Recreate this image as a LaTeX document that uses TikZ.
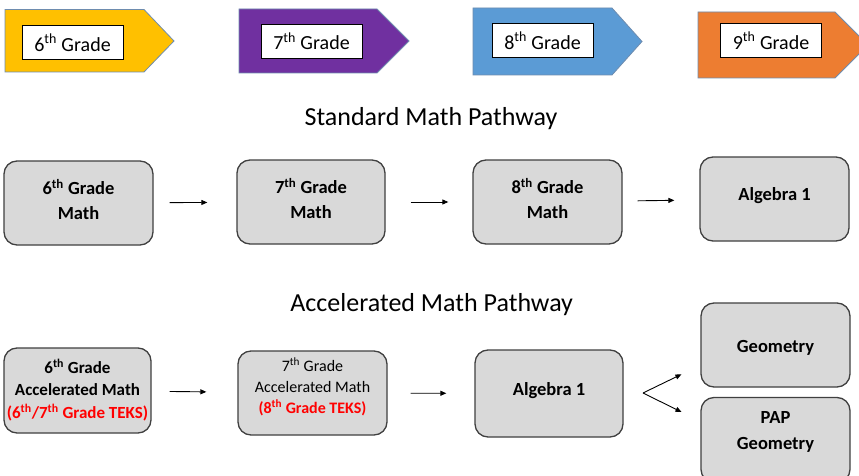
\documentclass[tikz,border=0pt]{standalone}
\usepackage{fontspec}
\setmainfont{Carlito}
\usetikzlibrary{arrows.meta}
\definecolor{gyellow}{RGB}{255,192,0}
\definecolor{gpurple}{RGB}{112,48,160}
\definecolor{gblue}{RGB}{91,155,213}
\definecolor{gorange}{RGB}{237,125,49}
\definecolor{bannerline}{RGB}{110,140,175}
\definecolor{boxfill}{RGB}{217,217,217}
\definecolor{boxline}{RGB}{64,64,64}
\definecolor{teksred}{RGB}{255,0,0}
\begin{document}
\begin{tikzpicture}[x=1pt,y=-1pt,
  banner/.style={draw=bannerline, line width=0.8pt},
  gradelabel/.style={draw=black, fill=white, line width=0.9pt, minimum width=101pt, minimum height=34pt, inner sep=0pt, font=\fontsize{20}{24}\selectfont},
  box/.style={draw=boxline, fill=boxfill, line width=1.3pt, rounded corners=13pt, minimum width=149pt, minimum height=84pt, inner sep=0pt, align=center},
  bigbold/.style={font=\fontsize{18.5}{25}\selectfont\bfseries},
  accbold/.style={font=\fontsize{17}{22.5}\selectfont\bfseries},
  accreg/.style={font=\fontsize{16}{21}\selectfont},
  pathtitle/.style={font=\fontsize{26}{30}\selectfont, anchor=base},
  arr/.style={-{Triangle[length=6pt,width=5pt]}, line width=0.9pt, black}
]
\path[use as bounding box] (0,0) rectangle (859,476);
\clip (0,0) rectangle (859,476);
\fill[white] (0,0) rectangle (859,476);

% grade banners
\draw[banner, fill=gyellow] (5,9.5) -- (144,9.5) -- (174,41) -- (144,72) -- (5,72) -- cycle;
\draw[banner, fill=gpurple] (239,9) -- (377,9) -- (409,41) -- (377,73) -- (239,73) -- cycle;
\draw[banner, fill=gblue] (473,8) -- (612,8) -- (642,41.5) -- (612,75) -- (473,75) -- cycle;
\draw[banner, fill=gorange] (698,12) -- (835,12) -- (868,45) -- (835,78) -- (698,78) -- cycle;
\node[gradelabel] (g6) at (72.5,42.5) {6\textsuperscript{th} Grade};
\node[gradelabel] (g7) at (311.5,41) {7\textsuperscript{th} Grade};
\node[gradelabel] (g8) at (542.5,40.5) {8\textsuperscript{th} Grade};
\node[gradelabel] (g9) at (771,40.5) {9\textsuperscript{th} Grade};

% titles
\node[pathtitle] (t1) at (431,125.7) {Standard Math Pathway};
\node[pathtitle] (t2) at (431.7,311.7) {Accelerated Math Pathway};

% standard pathway
\node[box, bigbold, text height=38pt, text depth=5pt] (b1) at (78.5,203) {6\textsuperscript{th} Grade\\Math};
\node[box, bigbold, text height=38pt, text depth=5pt, minimum width=148pt] (b2) at (311,202) {7\textsuperscript{th} Grade\\Math};
\node[box, bigbold, text height=38pt, text depth=5pt] (b3) at (547.5,202) {8\textsuperscript{th} Grade\\Math};
\node[box, bigbold, text height=12.5pt, text depth=9.5pt] (b4) at (774.5,199) {Algebra 1};

\draw[arr, shorten <=16pt, shorten >=29pt] (b1) -- (b2);
\draw[arr, shorten <=25pt, shorten >=24pt] (b2) -- (b3);
\draw[arr, shorten <=15pt, shorten >=25pt] (b3) -- (b4);

% accelerated pathway
\node[box, accbold, text height=58pt, text depth=2.4pt, minimum width=147pt, minimum height=85pt] (c1) at (77.5,390.5)
  {6\textsuperscript{th} Grade\\Accelerated Math\\\textcolor{teksred}{(6\textsuperscript{th}/7\textsuperscript{th} Grade TEKS)}};
\node[box, accreg, text height=54pt, text depth=13.4pt] (c2) at (312.5,393)
  {7\textsuperscript{th} Grade\\Accelerated Math\\\textcolor{teksred}{\bfseries (8\textsuperscript{th} Grade TEKS)}};
\node[box, bigbold, text height=12.5pt, text depth=9.5pt, minimum width=148pt, minimum height=87pt] (c3) at (549,393.5) {Algebra 1};
\node[box, bigbold, text height=15pt, text depth=1pt] (geo) at (775.5,345) {Geometry};
\node[box, font=\fontsize{18.5}{26}\selectfont\bfseries, text height=38pt, text depth=20pt, minimum height=85pt] (pap) at (775.5,440) {PAP\\Geometry};

\draw[arr, shorten <=18pt, shorten >=31pt] (c1) -- (c2);
\draw[arr, shorten <=23pt, shorten >=28pt] (c2) -- (c3);
\coordinate (fk) at (643,393);
\draw[arr, shorten >=21pt] (fk) -- (geo.195);
\draw[arr, shorten >=21pt] (fk) -- (pap.166);
\end{tikzpicture}
\end{document}
